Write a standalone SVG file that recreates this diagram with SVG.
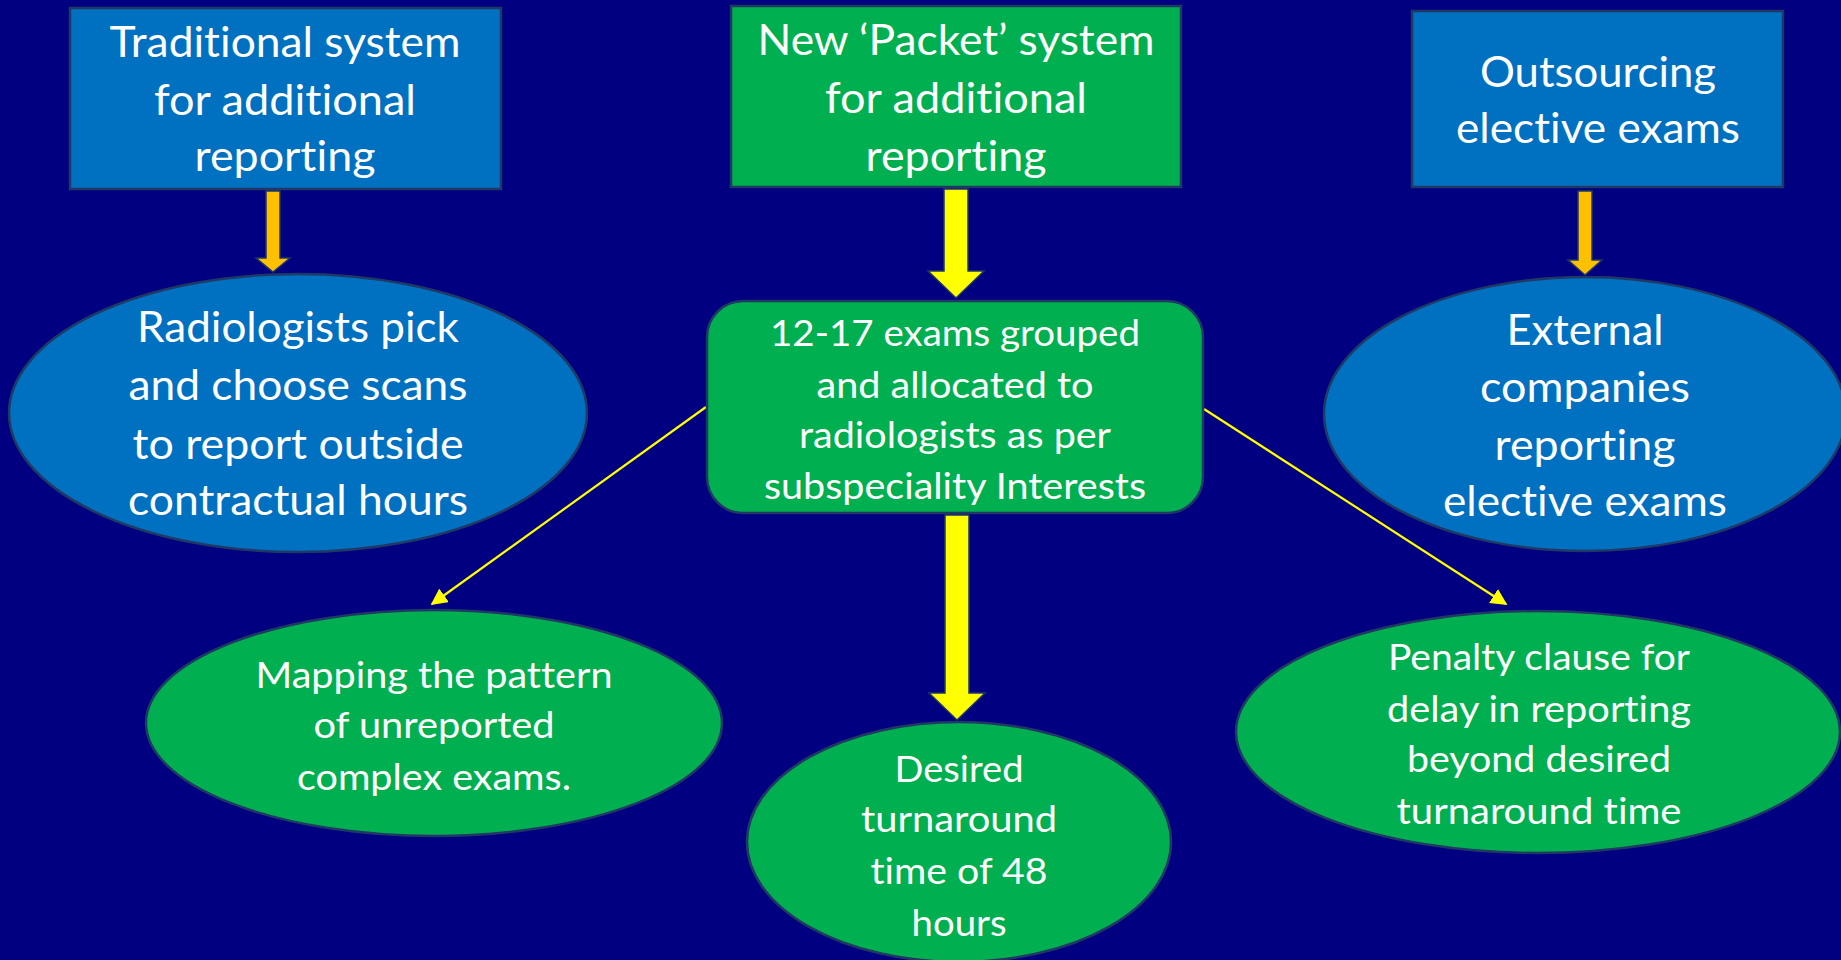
<svg xmlns="http://www.w3.org/2000/svg" width="1841" height="960" viewBox="0 0 1841 960">
<style>
.bg{fill:#000080}
.blue{fill:#0070C0;stroke:#1F3864;stroke-width:2.5}
.green{fill:#00B050;stroke:#1F3864;stroke-width:2.5}
.t{font-family:Lato,"Open Sans","Liberation Sans",sans-serif;fill:#FFFFFF;text-anchor:middle;font-variant-ligatures:none;font-feature-settings:"liga" 0}
.big{font-size:42px}
.small{font-size:37.5px}
.thin{stroke:#FFFF00;stroke-width:2.2;fill:none;marker-end:url(#ah)}
.orange{fill:#FFC000;stroke:#1F3864;stroke-width:1.5}
.yellow{fill:#FFFF00;stroke:#1F3864;stroke-width:1.5}
</style>
<defs>
<marker id="ah" viewBox="0 0 10 10" refX="9" refY="5" markerWidth="7.5" markerHeight="7.5" markerUnits="strokeWidth" orient="auto">
<path d="M0,0 L10,5 L0,10 Z" fill="#FFFF00"/>
</marker>
</defs>
<rect class="bg" x="0" y="0" width="1841" height="960"/>

<g id="connectors">
<polygon class="orange" points="266,191 280,191 280,258 290,258 273,272 256,258 266,258"/>
<polygon class="orange" points="1578,191 1592,191 1592,260 1602,260 1585,275 1568,260 1578,260"/>
<polygon class="yellow" points="944,189 968,189 968,271 984,271 956,298 928,271 944,271"/>
<polygon class="yellow" points="945,515 969,515 969,693 985,693 957,720 929,693 945,693"/>
<line class="thin" x1="706" y1="407" x2="432" y2="604"/>
<line class="thin" x1="1204" y1="409" x2="1506" y2="604"/>
</g>

<g id="traditional">
<rect class="blue" x="70" y="8" width="431" height="181"/>
<text class="t big" x="285" y="57" textLength="351" lengthAdjust="spacingAndGlyphs">Traditional system</text>
<text class="t big" x="285" y="115" textLength="262" lengthAdjust="spacingAndGlyphs">for additional</text>
<text class="t big" x="285" y="171" textLength="181" lengthAdjust="spacingAndGlyphs">reporting</text>
</g>

<g id="radiologists-pick">
<ellipse class="blue" cx="298" cy="413" rx="289" ry="139"/>
<text class="t big" x="298" y="342" textLength="322" lengthAdjust="spacingAndGlyphs">Radiologists pick</text>
<text class="t big" x="298" y="400" textLength="339" lengthAdjust="spacingAndGlyphs">and choose scans</text>
<text class="t big" x="298" y="459" textLength="331" lengthAdjust="spacingAndGlyphs">to report outside</text>
<text class="t big" x="298" y="515" textLength="340" lengthAdjust="spacingAndGlyphs">contractual hours</text>
</g>

<g id="packet-system">
<rect class="green" x="731" y="6" width="450" height="181"/>
<text class="t big" x="956" y="55" textLength="397" lengthAdjust="spacingAndGlyphs">New ‘Packet’ system</text>
<text class="t big" x="956" y="113" textLength="262" lengthAdjust="spacingAndGlyphs">for additional</text>
<text class="t big" x="956" y="171" textLength="181" lengthAdjust="spacingAndGlyphs">reporting</text>
</g>

<g id="exams-grouped">
<rect class="green" x="707" y="301" width="496" height="212" rx="36" ry="36"/>
<text class="t small" x="955" y="346" textLength="370" lengthAdjust="spacingAndGlyphs">12-17 exams grouped</text>
<text class="t small" x="955" y="398" textLength="277" lengthAdjust="spacingAndGlyphs">and allocated to</text>
<text class="t small" x="955" y="448" textLength="312" lengthAdjust="spacingAndGlyphs">radiologists as per</text>
<text class="t small" x="955" y="499" textLength="382" lengthAdjust="spacingAndGlyphs">subspeciality Interests</text>
</g>

<g id="outsourcing">
<rect class="blue" x="1412" y="11" width="371" height="176"/>
<text class="t big" x="1598" y="87" textLength="236" lengthAdjust="spacingAndGlyphs">Outsourcing</text>
<text class="t big" x="1598" y="143" textLength="284" lengthAdjust="spacingAndGlyphs">elective exams</text>
</g>

<g id="external-companies">
<ellipse class="blue" cx="1585" cy="414" rx="261" ry="137"/>
<text class="t big" x="1585" y="345" textLength="157" lengthAdjust="spacingAndGlyphs">External</text>
<text class="t big" x="1585" y="402" textLength="210" lengthAdjust="spacingAndGlyphs">companies</text>
<text class="t big" x="1585" y="460" textLength="181" lengthAdjust="spacingAndGlyphs">reporting</text>
<text class="t big" x="1585" y="516" textLength="284" lengthAdjust="spacingAndGlyphs">elective exams</text>
</g>

<g id="mapping">
<ellipse class="green" cx="434" cy="723" rx="288" ry="113"/>
<text class="t small" x="434" y="688" textLength="357" lengthAdjust="spacingAndGlyphs">Mapping the pattern</text>
<text class="t small" x="434" y="738" textLength="241" lengthAdjust="spacingAndGlyphs">of unreported</text>
<text class="t small" x="434" y="790" textLength="274" lengthAdjust="spacingAndGlyphs">complex exams.</text>
</g>

<g id="desired-turnaround">
<ellipse class="green" cx="959" cy="842" rx="212" ry="120"/>
<text class="t small" x="959" y="782" textLength="129" lengthAdjust="spacingAndGlyphs">Desired</text>
<text class="t small" x="959" y="832" textLength="196" lengthAdjust="spacingAndGlyphs">turnaround</text>
<text class="t small" x="959" y="884" textLength="177" lengthAdjust="spacingAndGlyphs">time of 48</text>
<text class="t small" x="959" y="936" textLength="95" lengthAdjust="spacingAndGlyphs">hours</text>
</g>

<g id="penalty-clause">
<ellipse class="green" cx="1538" cy="732" rx="302" ry="121"/>
<text class="t small" x="1539" y="670" textLength="302" lengthAdjust="spacingAndGlyphs">Penalty clause for</text>
<text class="t small" x="1539" y="722" textLength="304" lengthAdjust="spacingAndGlyphs">delay in reporting</text>
<text class="t small" x="1539" y="772" textLength="264" lengthAdjust="spacingAndGlyphs">beyond desired</text>
<text class="t small" x="1539" y="824" textLength="285" lengthAdjust="spacingAndGlyphs">turnaround time</text>
</g>
</svg>
